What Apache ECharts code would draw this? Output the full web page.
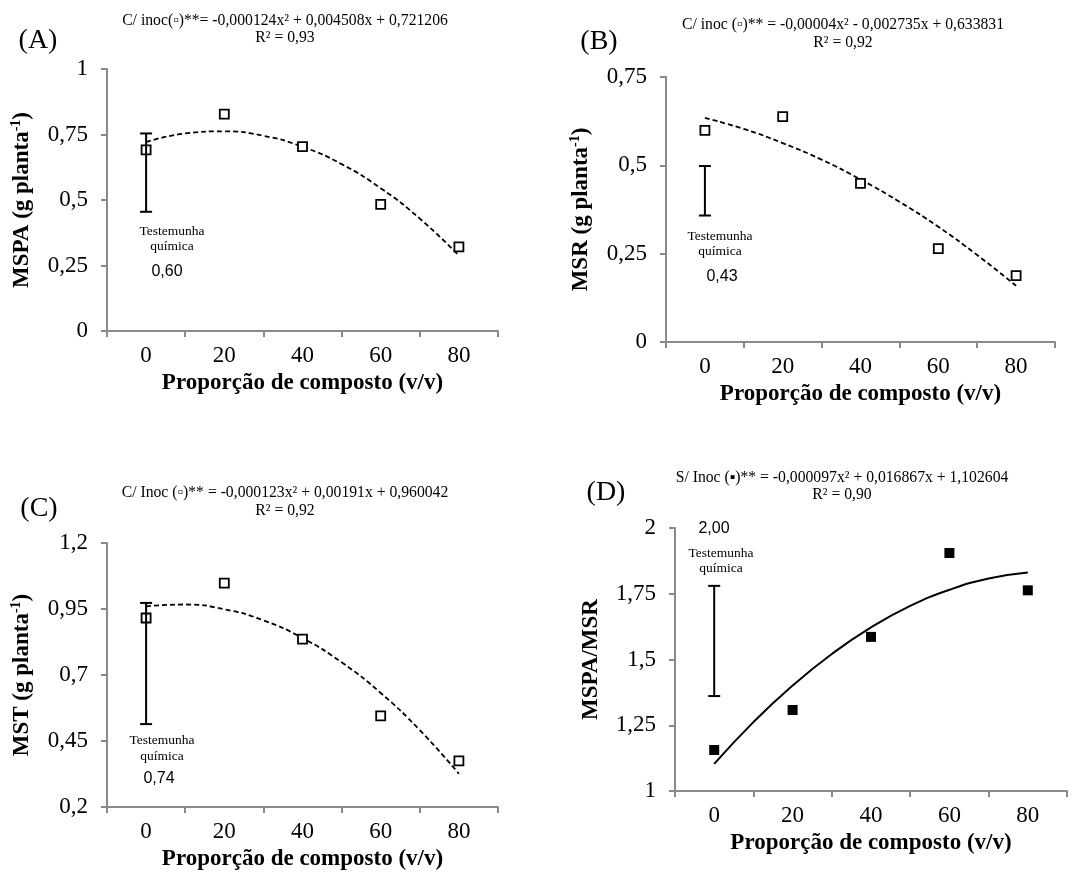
<!DOCTYPE html>
<html>
<head>
<meta charset="utf-8">
<script src="https://cdn.jsdelivr.net/npm/echarts@6.0.0/dist/echarts.min.js"></script>
<style>
  html, body { margin: 0; padding: 0; background: #fff; }
  #chart { width: 1079px; height: 874px; }
</style>
</head>
<body>
<div id="chart"></div>
<script>
// proporção de composto (v/v)
const xCats = [0, 20, 40, 60, 80]
const xTickBounds = [-10, 10, 30, 50, 70, 90]
const curveX = [0, 10, 20, 30, 40, 50, 60, 70, 80]

// (A) MSPA
const mspaObs = [0.691, 0.828, 0.704, 0.483, 0.321]
const mspaTrend = [0.721, 0.754, 0.762, 0.745, 0.703, 0.637, 0.545, 0.429, 0.288]
const mspaCheck = [0, 0.455, 0.754]
const mspaTicks = [0, 0.25, 0.5, 0.75, 1]

// (B) MSR
const msrObs = [0.599, 0.638, 0.449, 0.264, 0.188]
const msrTrend = [0.634, 0.603, 0.563, 0.516, 0.460, 0.397, 0.326, 0.246, 0.159]
const msrCheck = [0, 0.358, 0.498]
const msrTicks = [0, 0.25, 0.5, 0.75]

// (C) MST
const mstObs = [0.916, 1.048, 0.836, 0.545, 0.375]
const mstTrend = [0.960, 0.967, 0.949, 0.907, 0.840, 0.748, 0.632, 0.491, 0.326]
const mstCheck = [0, 0.514, 0.973]
const mstTicks = [0.2, 0.45, 0.7, 0.95, 1.2]

// (D) MSPA/MSR
const ratioObs = [1.156, 1.308, 1.586, 1.905, 1.763]
const ratioTrend = [1.103, 1.262, 1.401, 1.521, 1.622, 1.704, 1.765, 1.808, 1.831]
const ratioCheck = [0, 1.361, 1.780]
const ratioTicks = [1, 1.25, 1.5, 1.75, 2]

const serif = '"Liberation Serif", "Times New Roman", serif'
const sans = '"Liberation Sans", Arial, sans-serif'
const axisGray = '#8a8a8a'

const panels = [
  {
    grid: { left: 107, top: 69, width: 391, height: 262 },
    ticks: mspaTicks, obs: mspaObs, trend: mspaTrend, check: mspaCheck,
    yName: '{b|MSPA (g planta}{s|-1}{b|)}', dashed: true, filled: false
  },
  {
    grid: { left: 666, top: 77, width: 389, height: 265 },
    ticks: msrTicks, obs: msrObs, trend: msrTrend, check: msrCheck,
    yName: '{b|MSR (g planta}{s|-1}{b|)}', dashed: true, filled: false
  },
  {
    grid: { left: 107, top: 543, width: 391, height: 264 },
    ticks: mstTicks, obs: mstObs, trend: mstTrend, check: mstCheck,
    yName: '{b|MST (g planta}{s|-1}{b|)}', dashed: true, filled: false
  },
  {
    grid: { left: 675, top: 528, width: 392, height: 263 },
    ticks: ratioTicks, obs: ratioObs, trend: ratioTrend, check: ratioCheck,
    yName: '{b|MSPA/MSR}', dashed: false, filled: true
  }
]

function errorBar(params, api) {
  const low = api.coord([api.value(0), api.value(1)])
  const high = api.coord([api.value(0), api.value(2)])
  const cap = 6
  const style = { stroke: '#000', lineWidth: 2 }
  return {
    type: 'group',
    children: [
      { type: 'line', shape: { x1: low[0], y1: low[1], x2: high[0], y2: high[1] }, style: style },
      { type: 'line', shape: { x1: high[0] - cap, y1: high[1], x2: high[0] + cap, y2: high[1] }, style: style },
      { type: 'line', shape: { x1: low[0] - cap, y1: low[1], x2: low[0] + cap, y2: low[1] }, style: style }
    ]
  }
}

const decimal = v => String(v).replace('.', ',')

const grids = []
const xAxes = []
const yAxes = []
const series = []

panels.forEach((p, i) => {
  grids.push(Object.assign({ outerBoundsMode: 'none' }, p.grid))
  xAxes.push({
    gridIndex: i,
    type: 'value',
    min: -10,
    max: 90,
    axisLine: { show: true, onZero: false, lineStyle: { color: axisGray, width: 2 } },
    axisTick: { show: true, length: 6, customValues: xTickBounds, lineStyle: { color: axisGray, width: 2 } },
    axisLabel: { customValues: xCats, color: '#000', fontFamily: serif, fontSize: 23, margin: 13 },
    splitLine: { show: false },
    name: 'Proporção de composto (v/v)',
    nameLocation: 'middle',
    nameGap: 41,
    nameTextStyle: { color: '#000', fontFamily: serif, fontWeight: 'bold', fontSize: 23 }
  })
  yAxes.push({
    gridIndex: i,
    type: 'value',
    min: p.ticks[0],
    max: p.ticks[p.ticks.length - 1],
    axisLine: { show: true, onZero: false, lineStyle: { color: axisGray, width: 2 } },
    axisTick: { show: true, length: 6, customValues: p.ticks, lineStyle: { color: axisGray, width: 2 } },
    axisLabel: { customValues: p.ticks, color: '#000', fontFamily: serif, fontSize: 23, margin: 19, formatter: decimal },
    splitLine: { show: false },
    name: p.yName,
    nameLocation: 'middle',
    nameRotate: 90,
    nameGap: 72,
    nameTextStyle: {
      rich: {
        b: { color: '#000', fontFamily: serif, fontWeight: 'bold', fontSize: 23 },
        s: { color: '#000', fontFamily: serif, fontWeight: 'bold', fontSize: 14, verticalAlign: 'top', padding: [0, 0, 12, 0] }
      }
    }
  })
  series.push({
    type: 'line',
    xAxisIndex: i,
    yAxisIndex: i,
    data: curveX.map((x, k) => [x, p.trend[k]]),
    smooth: true,
    symbol: 'none',
    lineStyle: { color: '#000', width: p.dashed ? 1.8 : 2, type: p.dashed ? [5, 3] : 'solid' },
    z: 2
  })
  series.push({
    type: 'scatter',
    xAxisIndex: i,
    yAxisIndex: i,
    data: xCats.map((x, k) => [x, p.obs[k]]),
    symbol: 'rect',
    symbolSize: p.filled ? 10 : 9,
    itemStyle: { color: p.filled ? '#000' : '#fff', borderColor: '#000', borderWidth: p.filled ? 0 : 1.8, opacity: 1 },
    z: 3
  })
  series.push({
    type: 'custom',
    xAxisIndex: i,
    yAxisIndex: i,
    renderItem: errorBar,
    encode: { x: 0, y: [1, 2] },
    data: [p.check],
    z: 4
  })
})

function txt(text, x, y, font, size) {
  return {
    type: 'text',
    x: x,
    y: y,
    silent: true,
    style: {
      text: text,
      fill: '#000',
      font: size + 'px ' + font,
      align: 'center',
      verticalAlign: 'middle',
      textAlign: 'center',
      textVerticalAlign: 'middle'
    }
  }
}

const graphics = [
  // panel letters
  txt('(A)', 38, 41, serif, 28),
  txt('(B)', 599, 42, serif, 28),
  txt('(C)', 39, 509, serif, 28),
  txt('(D)', 606, 493, serif, 28),
  // regression equations
  txt('C/ inoc(\u25AB)**= -0,000124x² + 0,004508x + 0,721206', 285, 21, serif, 15.7),
  txt('R² = 0,93', 285, 38, serif, 15.7),
  txt('C/ inoc (\u25AB)** = -0,00004x² - 0,002735x + 0,633831', 843, 25, serif, 15.7),
  txt('R² = 0,92', 843, 43, serif, 15.7),
  txt('C/ Inoc (\u25AB)** = -0,000123x² + 0,00191x + 0,960042', 285, 493, serif, 15.7),
  txt('R² = 0,92', 285, 511, serif, 15.7),
  txt('S/ Inoc (\u25AA)** = -0,000097x² + 0,016867x + 1,102604', 842, 478, serif, 15.7),
  txt('R² = 0,90', 842, 495, serif, 15.7),
  // chemical control notes
  txt('Testemunha', 172, 231, serif, 13.5),
  txt('química', 172, 246, serif, 13.5),
  txt('0,60', 167, 272, sans, 16),
  txt('Testemunha', 720, 236, serif, 13.5),
  txt('química', 720, 251, serif, 13.5),
  txt('0,43', 722, 277, sans, 16),
  txt('Testemunha', 162, 740, serif, 13.5),
  txt('química', 162, 756, serif, 13.5),
  txt('0,74', 159, 779, sans, 16),
  txt('2,00', 714, 529, sans, 16),
  txt('Testemunha', 721, 553, serif, 13.5),
  txt('química', 721, 568, serif, 13.5)
]

let myChart = echarts.init(document.getElementById('chart'))
myChart.setOption({
  backgroundColor: '#fff',
  animation: false,
  grid: grids,
  xAxis: xAxes,
  yAxis: yAxes,
  series: series,
  graphic: graphics
})
</script>
</body>
</html>
